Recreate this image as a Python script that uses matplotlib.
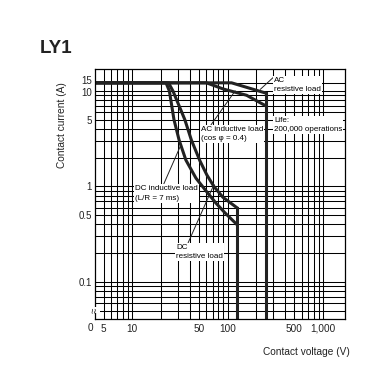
import numpy as np
import matplotlib.pyplot as plt
import matplotlib.transforms as mtrans
from matplotlib.ticker import FixedLocator, NullFormatter

plt.rcParams['font.family'] = ['Liberation Sans', 'DejaVu Sans']

# --- curve data (V, A) ---
ac_res_v = [4, 110, 250]
ac_res_a = [15, 15, 9.5]

ac_ind_v = [4, 60, 90, 158, 250]
ac_ind_a = [15, 15, 11, 9, 7]

dc_ind_v = [4, 22.6, 24.5, 27.4, 31, 36.5, 46.6, 59.3, 75.4, 93.7, 125]
dc_ind_a = [15, 15, 10, 5, 3.06, 1.89, 1.22, 0.9, 0.67, 0.53, 0.4]

dc_res_v = [4, 24, 26.7, 35.6, 41.7, 51.3, 60.6, 71.8, 89.3, 125]
dc_res_a = [15, 15, 10, 5, 3.06, 1.85, 1.32, 1.0, 0.77, 0.6]

ac_limit_v = 250
dc_limit_v = 125

x_ticks = [5, 10, 50, 100, 500, 1000]
x_labels = ['5', '10', '50', '100', '500', '1,000']
y_ticks = [0.1, 0.5, 1, 5, 10, 15]
y_labels = ['0.1', '0.5', '1', '5', '10', '15']

y_min, y_max = 0.041, 30
x_min, x_max = 4.07, 1700


# log scale, squeezed above 10 A like the datasheet
def fwd(y):
    ly = np.log10(np.clip(np.asarray(y, float), 1e-9, None))
    return np.where(ly > 1, 1 + (ly - 1) * 0.48, ly)


def inv(t):
    t = np.minimum(np.asarray(t, float), 3)
    return np.where(t > 1, 10 ** (1 + (t - 1) / 0.48), 10 ** t)


fig = plt.figure(figsize=(3.81, 3.79), dpi=100)
ax = fig.add_axes([0.2493, 0.1583, 0.6562, 0.6596])
ax.set_xscale('log')
ax.set_yscale('function', functions=(fwd, inv))
ax.set_xlim(x_min, x_max)
ax.set_ylim(y_min, y_max)

# grid
x_grid = [m * 10 ** e for e in range(0, 3) for m in range(1, 10) if m * 10 ** e >= 5] + [1000]
y_grid = [m * 10.0 ** e for e in (-2, -1, 0) for m in range(1, 10) if m * 10.0 ** e >= 0.05] + [10]
ax.xaxis.set_major_locator(FixedLocator(x_ticks))
ax.xaxis.set_minor_locator(FixedLocator(x_grid))
ax.yaxis.set_major_locator(FixedLocator(y_ticks))
ax.yaxis.set_minor_locator(FixedLocator(y_grid))
ax.set_xticklabels(x_labels)
ax.set_yticklabels(y_labels)
ax.xaxis.set_minor_formatter(NullFormatter())
ax.yaxis.set_minor_formatter(NullFormatter())
ax.tick_params(which='both', length=0)
ax.tick_params(axis='x', pad=3.5, labelsize=7.2, colors='#222')
ax.tick_params(axis='y', pad=2.2, labelsize=7.0, colors='#222')
ax.grid(True, which='both', color='black', lw=0.75)
ax.set_axisbelow(True)
for s in ax.spines.values():
    s.set_linewidth(0.9)

# 15 and 10 sit very close: nudge them apart a little
for lab in ax.get_yticklabels():
    if lab.get_text() == '15':
        lab.set_transform(lab.get_transform() + mtrans.ScaledTranslation(0, 2.5 / 100, fig.dpi_scale_trans))
    elif lab.get_text() == '10':
        lab.set_transform(lab.get_transform() + mtrans.ScaledTranslation(0, -1 / 100, fig.dpi_scale_trans))

# curves
kw = dict(color='#222222', lw=2.2, solid_joinstyle='miter')
ax.plot(ac_res_v, ac_res_a, **kw)
ax.plot(ac_ind_v, ac_ind_a, **kw)
ax.plot(dc_ind_v, dc_ind_a, **kw)
ax.plot(dc_res_v, dc_res_a, **kw)
ax.plot([ac_limit_v, ac_limit_v], [ac_res_a[-1], y_min], **kw)
ax.plot([dc_limit_v, dc_limit_v], [dc_res_a[-1], y_min], **kw)

# labels
box = dict(fc='white', ec='none', pad=0.6)
lead = dict(arrowstyle='-', lw=0.7, color='#222', shrinkA=0, shrinkB=0)
fs = 5.8
ax.annotate('AC\nresistive load', xy=(220, 10.8), xytext=(0.716, 0.936),
            textcoords='axes fraction', ha='left', va='center', fontsize=fs,
            linespacing=1.5, bbox=box, arrowprops=dict(lead, relpos=(0.0, 1.0)))
ax.annotate('AC inductive load\n(cos φ = 0.4)', xy=(120, 10.0), xytext=(0.424, 0.74),
            textcoords='axes fraction', ha='left', va='center', fontsize=fs,
            linespacing=1.5, bbox=box, arrowprops=dict(lead, relpos=(0.15, 1.0)))
ax.text(0.716, 0.776, 'Life:\n200,000 operations', transform=ax.transAxes,
        ha='left', va='center', fontsize=fs, linespacing=1.5, bbox=box)
ax.annotate('DC inductive load\n(L/R = 7 ms)', xy=(32, 2.65), xytext=(0.16, 0.502),
            textcoords='axes fraction', ha='left', va='center', fontsize=fs,
            linespacing=1.5, bbox=box, arrowprops=dict(lead, relpos=(0.45, 1.0)))
ax.annotate('DC\nresistive load', xy=(72, 1.05), xytext=(0.324, 0.268),
            textcoords='axes fraction', ha='left', va='center', fontsize=fs,
            linespacing=1.5, bbox=box, arrowprops=dict(lead, relpos=(0.25, 1.0)))

# origin and axis break
ax.text(-0.02, -0.036, '0', transform=ax.transAxes, ha='center', va='center',
        fontsize=7.2, color='#222')
ax.text(0.0, 0.035, '≈', transform=ax.transAxes, ha='center', va='center',
        fontsize=7, rotation=90, color='#222',
        bbox=dict(fc='white', ec='none', pad=0.2), clip_on=False)

ax.set_ylabel('Contact current (A)', fontsize=7.3, color='#222')
ax.yaxis.set_label_coords(-0.112, 0.776)
ax.set_xlabel('Contact voltage (V)', fontsize=7.3, color='#222')
ax.xaxis.set_label_coords(0.844, -0.112)

fig.text(40 / 381, 1 - 53 / 379, 'LY1', fontsize=13.5, fontweight='bold',
         ha='left', va='baseline', color='#222')

fig.savefig('out.png', dpi=100)
print("Plot saved")
